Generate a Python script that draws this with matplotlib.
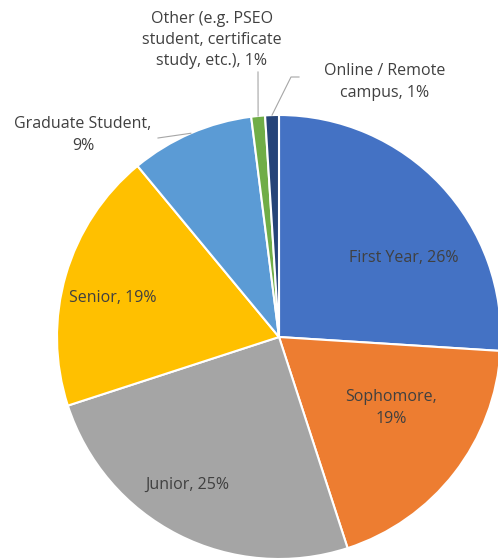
import numpy as np
import matplotlib.pyplot as plt

# --- data ---
categories = ["First Year", "Sophomore", "Junior", "Senior", "Graduate Student",
              "Other (e.g. PSEO student, certificate study, etc.)", "Online / Remote campus"]
shares = [26, 19, 25, 19, 9, 1, 1]
label_texts = ["First Year, 26%", "Sophomore,\n19%", "Junior, 25%", "Senior, 19%",
               "Graduate Student,\n9%", "Other (e.g. PSEO\nstudent, certificate\nstudy, etc.), 1%",
               "Online / Remote\ncampus, 1%"]
colors = ["#4472C4", "#ED7D31", "#A5A5A5", "#FFC000", "#5B9BD5", "#70AD47", "#264478"]

# --- layout (pixels in the 498x560 canvas) ---
W, H = 498, 560
CX, CY, R = 279, 337, 222
label_pos = [(404, 258), (391, 408), (187, 485), (113, 298), (83, 135), (212, 40), (385, 82)]
leader_ends = {4: [(158, 138)], 5: [(258, 72)], 6: [(291, 77), (299, 77)]}


def px(x, y):
    return (x - CX) / R, (CY - y) / R


fig = plt.figure(figsize=(W / 100, H / 100), dpi=100)
ax = fig.add_axes([0, 0, 1, 1])
wedges, _ = ax.pie(shares, colors=colors, startangle=90, counterclock=False,
                   wedgeprops=dict(edgecolor="white", linewidth=1.5))
ax.set_aspect("auto")
ax.set_xlim(px(0, 0)[0], px(W, 0)[0])
ax.set_ylim(px(0, H)[1], px(0, 0)[1])
ax.axis("off")

for i, (txt, (lx, ly)) in enumerate(zip(label_texts, label_pos)):
    x, y = px(lx, ly)
    ax.text(x, y, txt, ha="center", va="center", fontsize=11.5, color="#404040",
            linespacing=1.45, family=["Open Sans", "DejaVu Sans"])

# leader lines from wedge middle on the rim to the label
for i, pts in leader_ends.items():
    w = wedges[i]
    mid = np.deg2rad((w.theta1 + w.theta2) / 2)
    xs = [np.cos(mid)] + [px(*p)[0] for p in pts]
    ys = [np.sin(mid)] + [px(*p)[1] for p in pts]
    ax.plot(xs, ys, color="#A6A6A6", lw=0.8)

fig.savefig("out.png", dpi=100)
